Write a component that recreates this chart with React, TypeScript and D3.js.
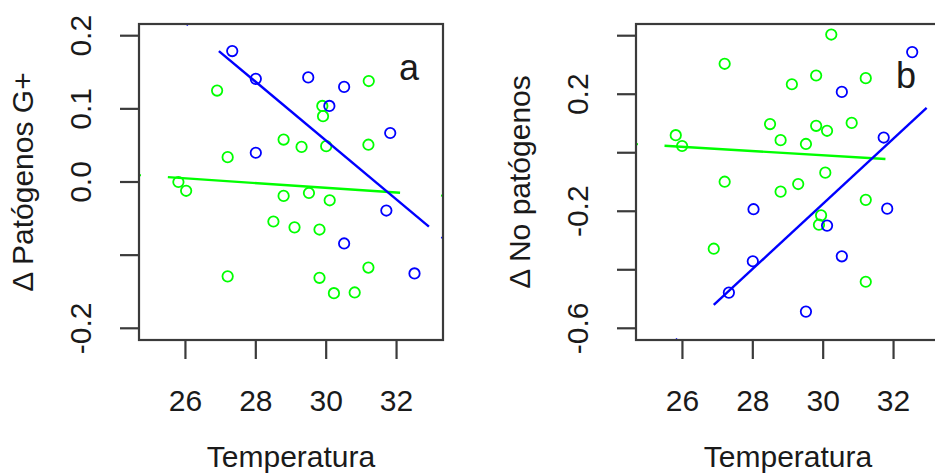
import React from "react";
import * as d3 from "d3";

// ---------- data ----------
const xTicks = [26, 28, 30, 32];
const xLim: [number, number] = [25, 33];

const leftYLim: [number, number] = [-0.2, 0.2];
const leftYTicks = [-0.2, -0.1, 0, 0.1, 0.2];
const leftYLabels = [-0.2, 0, 0.1, 0.2];

const rightYLim: [number, number] = [-0.6, 0.4];
const rightYTicks = [-0.6, -0.4, -0.2, 0, 0.2, 0.4];
const rightYLabels = [-0.6, -0.2, 0.2];

const leftGreenX = [26.9, 31.21, 29.89, 29.91, 28.79, 29.3, 30.0, 31.2, 27.2, 25.8, 26.02, 28.79, 29.51, 30.1, 28.5, 29.1, 29.81, 27.2, 29.81, 31.2, 30.22, 30.81];
const leftGreenY = [0.125, 0.138, 0.104, 0.09, 0.058, 0.048, 0.049, 0.051, 0.034, 0.0, -0.012, -0.019, -0.015, -0.025, -0.054, -0.062, -0.065, -0.129, -0.131, -0.117, -0.152, -0.151];
const leftBlueX = [27.33, 28.0, 29.49, 30.51, 30.09, 31.82, 28.0, 31.71, 30.51, 32.51];
const leftBlueY = [0.179, 0.141, 0.143, 0.13, 0.104, 0.067, 0.04, -0.039, -0.084, -0.125];

const rightGreenX = [30.23, 27.2, 29.11, 29.8, 31.21, 28.49, 29.8, 30.11, 30.81, 25.81, 25.99, 28.79, 29.51, 27.2, 28.79, 29.29, 30.06, 31.21, 29.94, 29.88, 26.89, 31.21];
const rightGreenY = [0.404, 0.304, 0.234, 0.264, 0.255, 0.098, 0.092, 0.075, 0.102, 0.06, 0.023, 0.043, 0.03, -0.099, -0.133, -0.107, -0.068, -0.161, -0.214, -0.246, -0.328, -0.441];
const rightBlueX = [32.53, 30.53, 31.72, 28.02, 31.82, 30.11, 30.53, 28.0, 27.32, 29.51];
const rightBlueY = [0.344, 0.208, 0.052, -0.193, -0.191, -0.249, -0.354, -0.371, -0.478, -0.543];

// regression lines: [x0, x1], [y0, y1]
const leftBlueLineX = [26.95, 32.92];
const leftBlueLineY = [0.179, -0.061];
const leftGreenLineX = [25.5, 32.1];
const leftGreenLineY = [0.0066, -0.0147];
const rightBlueLineX = [26.89, 32.94];
const rightBlueLineY = [-0.52, 0.153];
const rightGreenLineX = [25.49, 31.77];
const rightGreenLineY = [0.0238, -0.0214];

const GREEN = "#00ff00";
const BLUE = "#0000ff";
const FONT = "'Liberation Sans', Arial, Helvetica, sans-serif";

const ext = (lim: [number, number]): [number, number] => {
  const d = (lim[1] - lim[0]) * 0.04;
  return [lim[0] - d, lim[1] + d];
};

const fmt = (v: number) => (Math.abs(v) < 1e-9 ? "0.0" : v.toFixed(1));

type PanelProps = {
  left: number;
  right: number;
  yLim: [number, number];
  yTicks: number[];
  yLabels: number[];
  ylab: string;
  tag: string;
  tagX: number;
  tagY: number;
  greenX: number[];
  greenY: number[];
  blueX: number[];
  blueY: number[];
  lines: { xs: number[]; ys: number[]; color: string }[];
};

const TOP = 24;
const BOTTOM = 340;

function Panel(p: PanelProps) {
  const x = d3.scaleLinear().domain(ext(xLim)).range([p.left, p.right]);
  const y = d3.scaleLinear().domain(ext(p.yLim)).range([BOTTOM, TOP]);
  const cx = (p.left + p.right) / 2;
  const cy = (TOP + BOTTOM) / 2;

  // small marks where the extended line meets the plot box
  const borderMarks = (xs: number[], ys: number[]) => {
    const px0 = x(xs[0]), py0 = y(ys[0]), px1 = x(xs[1]), py1 = y(ys[1]);
    const m = (py1 - py0) / (px1 - px0);
    const out: [number, number, number, number][] = [];
    const ux = 1 / Math.sqrt(1 + m * m), uy = m / Math.sqrt(1 + m * m);
    for (const bx of [p.left, p.right]) {
      const by = py0 + (bx - px0) * m;
      if (by >= TOP && by <= BOTTOM) {
        const s = bx === p.left ? 1 : -1;
        out.push([bx, by, bx + s * 2 * ux, by + s * 2 * uy]);
      }
    }
    for (const by of [TOP, BOTTOM]) {
      const bx = px0 + (by - py0) / m;
      if (bx > p.left && bx < p.right) {
        const s = (by === TOP) === (m > 0) ? 1 : -1;
        out.push([bx, by, bx + s * 2 * ux, by + s * 2 * uy]);
      }
    }
    return out;
  };

  return (
    <g>
      {p.greenX.map((v, i) => (
        <circle key={"g" + i} cx={x(v)} cy={y(p.greenY[i])} r={5.2} fill="none" stroke={GREEN} strokeWidth={1.8} />
      ))}
      {p.blueX.map((v, i) => (
        <circle key={"b" + i} cx={x(v)} cy={y(p.blueY[i])} r={5.2} fill="none" stroke={BLUE} strokeWidth={1.8} />
      ))}
      {p.lines.map((l, i) => (
        <g key={"l" + i}>
          <line x1={x(l.xs[0])} y1={y(l.ys[0])} x2={x(l.xs[1])} y2={y(l.ys[1])} stroke={l.color} strokeWidth={2.4} />
          {borderMarks(l.xs, l.ys).map((b, j) => (
            <line key={j} x1={b[0]} y1={b[1]} x2={b[2]} y2={b[3]} stroke={l.color} strokeWidth={2} />
          ))}
        </g>
      ))}
      <rect x={p.left} y={TOP} width={p.right - p.left} height={BOTTOM - TOP} fill="none" stroke="#3a3a3a" strokeWidth={2.2} />
      {xTicks.map((t) => (
        <g key={"xt" + t}>
          <line x1={x(t)} x2={x(t)} y1={BOTTOM} y2={BOTTOM + 19} stroke="#3a3a3a" strokeWidth={2.2} />
          <text x={x(t)} y={411} textAnchor="middle" fontSize={30} fontFamily={FONT} fill="#1a1a1a">
            {t}
          </text>
        </g>
      ))}
      <text x={cx} y={467} textAnchor="middle" fontSize={30} fontFamily={FONT} fill="#1a1a1a">
        Temperatura
      </text>
      {p.yTicks.map((t) => (
        <line key={"yt" + t} x1={p.left - 19} x2={p.left} y1={y(t)} y2={y(t)} stroke="#3a3a3a" strokeWidth={2.2} />
      ))}
      {p.yLabels.map((t) => (
        <text
          key={"yl" + t}
          transform={`translate(${p.left - 48},${y(t)}) rotate(-90)`}
          textAnchor="middle"
          fontSize={30}
          fontFamily={FONT}
          fill="#1a1a1a"
        >
          {fmt(t)}
        </text>
      ))}
      <text
        transform={`translate(${p.left - 106},${cy}) rotate(-90)`}
        textAnchor="middle"
        fontSize={30}
        fontFamily={FONT}
        fill="#1a1a1a"
      >
        {p.ylab}
      </text>
      <text x={p.tagX} y={p.tagY} textAnchor="middle" fontSize={36} fontFamily={FONT} fill="#1a1a1a">
        {p.tag}
      </text>
    </g>
  );
}

export default function App() {
  return (
    <svg width={935} height={475} style={{ position: "absolute", left: 0, top: 0, background: "#fff" }}>
      <rect x={0} y={0} width={935} height={475} fill="#fff" />
      <Panel
        left={139}
        right={443}
        yLim={leftYLim}
        yTicks={leftYTicks}
        yLabels={leftYLabels}
        ylab="Δ Patógenos G+"
        tag="a"
        tagX={409}
        tagY={80}
        greenX={leftGreenX}
        greenY={leftGreenY}
        blueX={leftBlueX}
        blueY={leftBlueY}
        lines={[
          { xs: leftGreenLineX, ys: leftGreenLineY, color: GREEN },
          { xs: leftBlueLineX, ys: leftBlueLineY, color: BLUE },
        ]}
      />
      <Panel
        left={636}
        right={940}
        yLim={rightYLim}
        yTicks={rightYTicks}
        yLabels={rightYLabels}
        ylab="Δ No patógenos"
        tag="b"
        tagX={906}
        tagY={88}
        greenX={rightGreenX}
        greenY={rightGreenY}
        blueX={rightBlueX}
        blueY={rightBlueY}
        lines={[
          { xs: rightGreenLineX, ys: rightGreenLineY, color: GREEN },
          { xs: rightBlueLineX, ys: rightBlueLineY, color: BLUE },
        ]}
      />
    </svg>
  );
}
